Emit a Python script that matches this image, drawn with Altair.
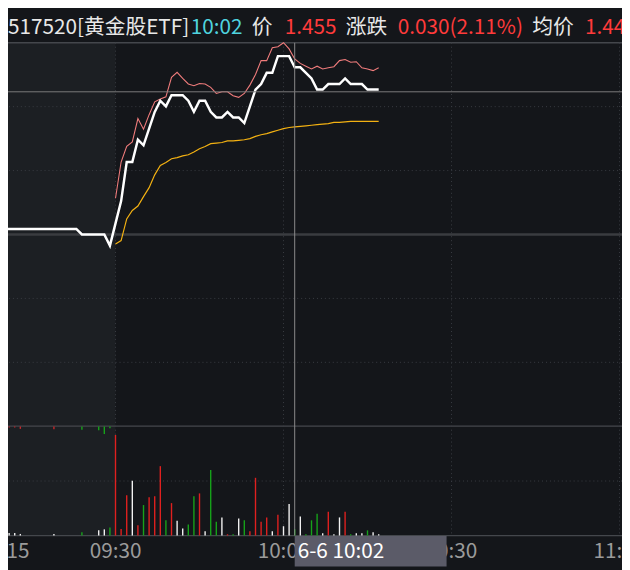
import altair as alt
import pandas as pd

# ---------------- data ----------------
CODE = "517520"
NAME = "黄金股ETF"
CUR_TIME = "10:02"
CUR_DATE = "6-6"
PREV_CLOSE = 1.425

# call-auction slots (09:15-09:25), one slot = one column on the x axis
PRE_SLOT = [-20, -19, -18, -17, -11, -7, -6, -3, -2, -1]
PRE_PRICE = [1.426, 1.426, 1.426, 1.426, 1.426, 1.426, 1.425, 1.425, 1.425, 1.423]
PRE_VOL_SLOT = [-19, -18, -17, -11, -6, -3, -2, -1]
PRE_VOL = [460, 460, 290, 290, 590, 950, 1130, 1480]
PRE_UNMATCHED = [180, 180, 430, 480, 610, 660, 1380, 300]
PRE_UNMATCHED_SIDE = ["buy", "buy", "buy", "buy", "sell", "sell", "sell", "sell"]

# regular session, minutes from 09:30
MINUTE = list(range(48))
PRICE = [1.427, 1.431, 1.438, 1.438, 1.442, 1.441, 1.444, 1.447,
         1.449, 1.448, 1.450, 1.450, 1.450, 1.449, 1.447, 1.449,
         1.449, 1.447, 1.446, 1.446, 1.447, 1.446, 1.446, 1.445,
         1.448, 1.451, 1.452, 1.454, 1.454, 1.457, 1.457, 1.457,
         1.455, 1.455, 1.454, 1.453, 1.451, 1.451, 1.452, 1.452,
         1.452, 1.453, 1.452, 1.452, 1.452, 1.451, 1.451, 1.451]
IOPV = [1.4315, 1.4380, 1.4408, 1.4416, 1.4458, 1.4439, 1.4465, 1.4488,
        1.4493, 1.4497, 1.4532, 1.4541, 1.4530, 1.4520, 1.4517, 1.4521,
        1.4520, 1.4514, 1.4503, 1.4506, 1.4506, 1.4499, 1.4496, 1.4503,
        1.4518, 1.4537, 1.4562, 1.4562, 1.4585, 1.4587, 1.4594, 1.4583,
        1.4565, 1.4557, 1.4552, 1.4547, 1.4552, 1.4547, 1.4549, 1.4551,
        1.4562, 1.4564, 1.4559, 1.4560, 1.4549, 1.4547, 1.4544, 1.4549]
AVG_PRICE = [1.4233, 1.4239, 1.4278, 1.4293, 1.4301, 1.4318, 1.4334, 1.4357,
             1.4374, 1.4379, 1.4386, 1.4388, 1.4391, 1.4393, 1.4398, 1.4404,
             1.4408, 1.4413, 1.4414, 1.4415, 1.4418, 1.4418, 1.4419, 1.4420,
             1.4422, 1.4426, 1.4429, 1.4431, 1.4434, 1.4437, 1.4440, 1.4442,
             1.4443, 1.4444, 1.4445, 1.4446, 1.4447, 1.4448, 1.4449, 1.4451,
             1.4451, 1.4452, 1.4453, 1.4453, 1.4453, 1.4453, 1.4453, 1.4453]
VOLUME = [18450, 1180, 7380, 10050, 1890, 5590, 7020, 7200,
          12730, 2790, 5950, 2730, 1300, 2020, 7200, 7730,
          770, 12020, 2550, 3320, 230, 230, 3140, 2790,
          770, 10590, 2550, 3320, 770, 3800, 1710, 5770,
          1130, 3500, 230, 2790, 3980, 410, 4340, 230,
          3320, 4340, 230, 410, 410, 950, 590, 230]

AXIS_SLOT = [-20, 0, 30, 60, 90]
AXIS_LABEL = ["09:15", "09:30", "10:00", "10:30", "11:00"]
GRID_SLOT = [0, 30, 60, 90]
CROSS_SLOT = 32
CROSS_PRICE = 1.4506
VOL_MAX = 20000

# ---------------- layout ----------------
W, H = 622, 562
SX, SY = W / 630, H / 570
FONT = "Noto Sans CJK SC"


def px(v):
    return round(v * SX, 2)


def py(v):
    return round(v * SY, 2)


X_DOMAIN = [-19.2, 90.45]
xs = alt.Scale(domain=X_DOMAIN, nice=False, zero=False)

dev = max(abs(p - PREV_CLOSE) for p in PRE_PRICE + PRICE + IOPV + AVG_PRICE)
P_DOMAIN = [PREV_CLOSE - dev, PREV_CLOSE + dev]


def ys_price():
    return alt.Scale(domain=P_DOMAIN, range=[py(426), py(32)], nice=False, zero=False)


def ys_vol():
    return alt.Scale(domain=[0, VOL_MAX], range=[py(538.3), py(426.3)], nice=False, zero=False)


def ys_unm():
    return alt.Scale(domain=[0, VOL_MAX], range=[py(426.3), py(538.3)], nice=False, zero=False)


def X(field):
    return alt.X(f"{field}:Q", scale=xs, axis=None)


# direction of each minute (for volume colours)
all_slot = PRE_SLOT + MINUTE
all_price = PRE_PRICE + PRICE
dir_by_slot = {}
prev = None
for s, p in zip(all_slot, all_price):
    if prev is None or abs(p - prev) < 1e-9:
        d = "flat"
    elif p > prev:
        d = "up"
    else:
        d = "down"
    dir_by_slot[s] = d
    prev = p

price_df = pd.DataFrame({"slot": all_slot, "price": all_price})
iopv_df = pd.DataFrame({"slot": MINUTE, "price": IOPV})
avg_df = pd.DataFrame({"slot": MINUTE, "price": AVG_PRICE})
vol_slots = PRE_VOL_SLOT + MINUTE
vol_df = pd.DataFrame({
    "slot": vol_slots,
    "vol": PRE_VOL + VOLUME,
    "dir": [dir_by_slot[s] for s in vol_slots],
    "zero": 0,
})
unm_df = pd.DataFrame({"slot": PRE_VOL_SLOT, "vol": PRE_UNMATCHED,
                       "side": PRE_UNMATCHED_SIDE, "zero": 0})

layers = []

# call-auction shaded zone
layers.append(
    alt.Chart(pd.DataFrame({"a": [-20], "b": [0]})).mark_rect(color="#1c1f23").encode(
        x=X("a"), x2="b", y=alt.value(py(32)), y2=alt.value(py(538.3)))
)

# price grid
grid_p = [PREV_CLOSE + k * dev / 3 for k in (-2, -1, 1, 2)]
layers.append(
    alt.Chart(pd.DataFrame({"p": grid_p})).mark_rule(color="#3a3d43", strokeDash=[1, 3], strokeWidth=1).encode(
        y=alt.Y("p:Q", scale=ys_price(), axis=None))
)
layers.append(
    alt.Chart(pd.DataFrame({"p": P_DOMAIN})).mark_rule(color="#44474c", strokeWidth=1.3).encode(
        y=alt.Y("p:Q", scale=ys_price(), axis=None))
)
layers.append(
    alt.Chart(pd.DataFrame({"p": [PREV_CLOSE]})).mark_rule(color="#3a3c40", strokeWidth=2.3).encode(
        y=alt.Y("p:Q", scale=ys_price(), axis=None))
)
# volume grid
layers.append(
    alt.Chart(pd.DataFrame({"v": [VOL_MAX / 2]})).mark_rule(color="#3a3d43", strokeDash=[1, 3]).encode(
        y=alt.Y("v:Q", scale=ys_vol(), axis=None))
)
layers.append(
    alt.Chart(pd.DataFrame({"v": [0]})).mark_rule(color="#44474c", strokeWidth=1.3).encode(
        y=alt.Y("v:Q", scale=ys_vol(), axis=None))
)
# vertical time grid
layers.append(
    alt.Chart(pd.DataFrame({"s": GRID_SLOT})).mark_rule(color="#3a3d43", strokeDash=[1, 3]).encode(
        x=X("s"), y=alt.value(py(32)), y2=alt.value(py(538.3)))
)

# volume bars
layers.append(
    alt.Chart(vol_df).mark_rule(strokeWidth=1.4).encode(
        x=X("slot"),
        y=alt.Y("vol:Q", scale=ys_vol(), axis=None),
        y2="zero:Q",
        color=alt.Color("dir:N", scale=alt.Scale(domain=["up", "down", "flat"],
                                                 range=["#e0201f", "#16a31a", "#f2f2f2"]), legend=None),
    )
)
layers.append(
    alt.Chart(unm_df).mark_rule(strokeWidth=1.4).encode(
        x=X("slot"),
        y=alt.Y("vol:Q", scale=ys_unm(), axis=None),
        y2="zero:Q",
        color=alt.Color("side:N", scale=alt.Scale(domain=["buy", "sell"],
                                                  range=["#c8262a", "#16a31a"]), legend=None),
    )
)

# price lines
layers.append(
    alt.Chart(avg_df).mark_line(color="#f3b112", strokeWidth=1.2, clip=True).encode(
        x=X("slot"), y=alt.Y("price:Q", scale=ys_price(), axis=None))
)
layers.append(
    alt.Chart(iopv_df).mark_line(color="#f07c7c", strokeWidth=1.1, clip=True).encode(
        x=X("slot"), y=alt.Y("price:Q", scale=ys_price(), axis=None))
)
layers.append(
    alt.Chart(price_df).mark_line(color="#ffffff", strokeWidth=2.5, clip=True).encode(
        x=X("slot"), y=alt.Y("price:Q", scale=ys_price(), axis=None))
)

# crosshair
layers.append(
    alt.Chart(pd.DataFrame({"s": [CROSS_SLOT]})).mark_rule(color="#8a8a8a", strokeWidth=1).encode(
        x=X("s"), y=alt.value(py(32)), y2=alt.value(py(538.3)))
)
layers.append(
    alt.Chart(pd.DataFrame({"p": [CROSS_PRICE]})).mark_rule(color="#7c7c7c", strokeWidth=1).encode(
        y=alt.Y("p:Q", scale=ys_price(), axis=None))
)

# time axis labels
layers.append(
    alt.Chart(pd.DataFrame({"slot": AXIS_SLOT, "label": AXIS_LABEL})).mark_text(
        align="center", baseline="alphabetic", fontSize=21, font=FONT, color="#9b9b9b").encode(
        x=X("slot"), y=alt.value(py(561.5)), text="label:N")
)
# crosshair time box
cross_df = pd.DataFrame({"s": [CROSS_SLOT], "t": [f"{CUR_DATE} {CUR_TIME}"]})
layers.append(
    alt.Chart(cross_df).mark_rect(color="#5b5b68").encode(
        x=X("s"), x2=alt.value(px(450)), y=alt.value(py(538.8)), y2=alt.value(H))
)
layers.append(
    alt.Chart(cross_df).mark_text(align="left", baseline="alphabetic", fontSize=21, font=FONT,
                                  color="#ffffff", dx=3).encode(
        x=X("s"), y=alt.value(py(561.5)), text="t:N")
)

# header
cur_price = PRICE[MINUTE.index(CROSS_SLOT)]
chg = cur_price - PREV_CLOSE
pct = chg / PREV_CLOSE * 100
avg_now = AVG_PRICE[MINUTE.index(CROSS_SLOT)]
header = [
    (f"{CODE}[{NAME}]", 0, "#e8e8e8"),
    (CUR_TIME, 187.5, "#4fd3df"),
    ("价", 250, "#e8e8e8"),
    (f"{cur_price:.3f}", 284, "#ff3b3b"),
    ("涨跌", 346.5, "#e8e8e8"),
    (f"{chg:.3f}({pct:.2f}%)", 400, "#ff3b3b"),
    ("均价", 538, "#e8e8e8"),
    (f"{avg_now:.3f}", 592, "#ff3b3b"),
]
for text, hx, col in header:
    layers.append(
        alt.Chart(pd.DataFrame({"t": [text]})).mark_text(
            align="left", baseline="alphabetic", fontSize=21, font=FONT, color=col).encode(
            x=alt.value(px(hx)), y=alt.value(py(23)), text="t:N")
    )

chart = alt.layer(*layers).resolve_scale(y="independent", color="independent").properties(
    width=W, height=H, autosize=alt.AutoSizeParams(type="none"), padding=0
).configure(background="#14161a").configure_view(strokeWidth=0)

chart.save("out.html", embed_options={"renderer": "svg", "actions": False})
